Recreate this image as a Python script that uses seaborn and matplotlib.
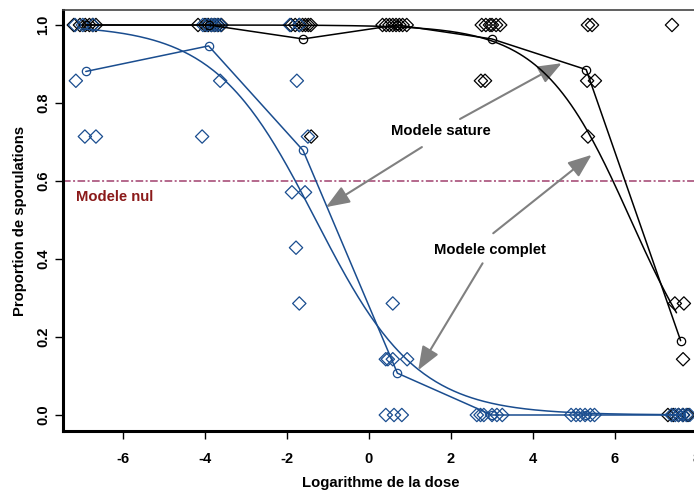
import numpy as np
import pandas as pd
import matplotlib
matplotlib.use("Agg")
import matplotlib.pyplot as plt
import seaborn as sns

# ---- data -------------------------------------------------------------
# log of the tested doses (0.001 ... 2000)
log_doses = [-6.908, -3.912, -1.609, 0.693, 2.996, 5.298, 7.601]

# product "bleu": dose level, jittered plotting position, observed proportion
blue_dose = ([-6.908] * 6 + [-3.912] * 8 + [-1.609] * 8 + [0.693] * 8
             + [2.996] * 6 + [5.298] * 6 + [7.601] * 6)
blue_xpos = [-7.17, -6.98, -6.73, -7.15, -6.93, -6.66,
             -4.05, -3.95, -3.85, -3.78, -3.70, -3.62, -3.63, -4.07,
             -1.93, -1.70, -1.76, -1.49, -1.88, -1.56, -1.78, -1.70,
             0.58, 0.41, 0.46, 0.58, 0.93, 0.41, 0.61, 0.80,
             2.63, 2.72, 2.80, 3.00, 3.12, 3.25,
             4.93, 5.05, 5.15, 5.27, 5.40, 5.50,
             7.38, 7.47, 7.55, 7.65, 7.74, 7.82]
blue_prop = [1, 1, 1, 0.857, 0.714, 0.714,
             1, 1, 1, 1, 1, 1, 0.857, 0.714,
             1, 1, 0.857, 0.714, 0.571, 0.571, 0.429, 0.286,
             0.286, 0.143, 0.143, 0.143, 0.143, 0, 0, 0,
             0, 0, 0, 0, 0, 0,
             0, 0, 0, 0, 0, 0,
             0, 0, 0, 0, 0, 0]

# product "noir"
black_dose = ([-6.908] * 6 + [-3.912] * 7 + [-1.609] * 8 + [0.693] * 8
              + [2.996] * 8 + [5.298] * 5 + [7.601] * 9)
black_xpos = [-7.20, -7.05, -6.92, -6.82, -6.74, -6.66,
              -4.17, -4.00, -3.92, -3.84, -3.76, -3.68, -3.60,
              -1.90, -1.80, -1.70, -1.62, -1.55, -1.48, -1.42, -1.41,
              0.33, 0.42, 0.50, 0.58, 0.66, 0.74, 0.82, 0.92,
              2.75, 2.85, 2.95, 3.00, 3.10, 3.20, 2.73, 2.83,
              5.34, 5.44, 5.32, 5.51, 5.34,
              7.39, 7.46, 7.68, 7.66, 7.29, 7.42, 7.55, 7.66, 7.78]
black_prop = [1, 1, 1, 1, 1, 1,
              1, 1, 1, 1, 1, 1, 1,
              1, 1, 1, 1, 1, 1, 1, 0.714,
              1, 1, 1, 1, 1, 1, 1, 1,
              1, 1, 1, 1, 1, 1, 0.857, 0.857,
              1, 1, 0.857, 0.857, 0.714,
              1, 0.286, 0.286, 0.143, 0, 0, 0, 0, 0]

# logistic fits of the complete model (intercept, slope on log dose)
blue_fit = (-1.05, -0.81)
black_fit = (5.94, -0.93)
fit_range = (-7.0, 7.5)

null_level = 0.6

x_ticks = [-6, -4, -2, 0, 2, 4, 6, 8]
x_ticklabels = ["-6", "-4", "-2", "0", "2", "4", "6", "8"]
y_ticks = [0, 0.2, 0.4, 0.6, 0.8, 1.0]
y_ticklabels = ["0.0", "0.2", "0.4", "0.6", "0.8", "1.0"]

BLUE = "#1a4d8f"
BLACK = "#000000"
GREY = "#808080"
NULL_COL = "#a0406e"

# ---- figure -----------------------------------------------------------
sns.set_style("ticks")
plt.rcParams["font.family"] = ["Liberation Sans", "DejaVu Sans"]
plt.rcParams["font.weight"] = "bold"
plt.rcParams["axes.labelweight"] = "bold"
plt.rcParams["text.color"] = "black"
plt.rcParams["axes.labelcolor"] = "black"
plt.rcParams["xtick.color"] = "black"
plt.rcParams["ytick.color"] = "black"

W, H = 694, 493
fig = plt.figure(figsize=(W / 100, H / 100), dpi=100)
left_px, right_px, top_px, bottom_px = 63, 698, 10, 431
ax = fig.add_axes([left_px / W, 1 - bottom_px / H,
                   (right_px - left_px) / W, (bottom_px - top_px) / H])

df = pd.concat([
    pd.DataFrame({"dose": blue_dose, "xpos": blue_xpos, "prop": blue_prop, "prod": "bleu"}),
    pd.DataFrame({"dose": black_dose, "xpos": black_xpos, "prop": black_prop, "prod": "noir"}),
])

colors = {"bleu": BLUE, "noir": BLACK}
for prod in ["noir", "bleu"]:
    sub = df[df["prod"] == prod]
    sns.scatterplot(data=sub, x="xpos", y="prop", marker="D", s=46,
                    facecolor="none", edgecolor=colors[prod], linewidth=0.9,
                    ax=ax, zorder=3)

# saturated model: mean proportion at each dose
for prod in ["noir", "bleu"]:
    sub = df[df["prod"] == prod]
    sns.lineplot(data=sub, x="dose", y="prop", estimator="mean", errorbar=None,
                 color=colors[prod], lw=1.1, marker="o", ms=6,
                 markerfacecolor="none", markeredgecolor=colors[prod],
                 markeredgewidth=0.9, ax=ax, zorder=4)

# complete model: fitted logistic curves
grid = np.linspace(fit_range[0], fit_range[1], 300)
for (a, b), col in [(blue_fit, BLUE), (black_fit, BLACK)]:
    curve = 1 / (1 + np.exp(-(a + b * grid)))
    sns.lineplot(x=grid, y=curve, color=col, lw=1.1, ax=ax, zorder=4)

# null model
ax.axhline(null_level, color=NULL_COL, lw=1.1, dashes=(5, 1.6, 1.3, 1.6), zorder=2)
ax.text(-7.15, null_level - 0.04, "Modele nul", color="#8b1a1a",
        fontsize=10.7, fontweight="bold", ha="left", va="center")

# annotations
arrow_kw = dict(arrowstyle="-|>,head_length=0.9,head_width=0.35", color=GREY,
                lw=1.5, mutation_scale=16, shrinkA=0, shrinkB=0)
ax.text(1.76, 0.728, "Modele sature", fontsize=10.7, fontweight="bold",
        ha="center", va="center")
ax.annotate("", xy=(-1.05, 0.533), xytext=(1.29, 0.687), arrowprops=arrow_kw)
ax.annotate("", xy=(4.70, 0.902), xytext=(2.22, 0.759), arrowprops=arrow_kw)
ax.text(2.95, 0.422, "Modele complet", fontsize=10.7, fontweight="bold",
        ha="center", va="center")
ax.annotate("", xy=(1.20, 0.115), xytext=(2.77, 0.389), arrowprops=arrow_kw)
ax.annotate("", xy=(5.43, 0.667), xytext=(3.03, 0.466), arrowprops=arrow_kw)

# axes
ax.set_xlim((left_px - 369) / 41, (right_px - 369) / 41)
ax.set_ylim(-16 / 390, 1 + 15 / 390)
ax.set_xticks(x_ticks)
ax.set_xticklabels(x_ticklabels)
ax.set_yticks(y_ticks)
ax.set_yticklabels(y_ticklabels, rotation=90, va="center")
ax.tick_params(axis="both", length=6, width=1.0, labelsize=10.5, color="black",
               labelcolor="black")
ax.tick_params(axis="x", pad=9)
ax.tick_params(axis="y", pad=3)
for lab in ax.get_xticklabels() + ax.get_yticklabels():
    lab.set_fontweight("bold")
ax.set_xlabel("Logarithme de la dose", fontsize=10.7, fontweight="bold", labelpad=7)
ax.set_ylabel("Proportion de sporulations", fontsize=10.7, fontweight="bold", labelpad=7)

ax.spines["left"].set_linewidth(2.2)
ax.spines["bottom"].set_linewidth(2.2)
ax.spines["left"].set_color("black")
ax.spines["bottom"].set_color("black")
ax.spines["top"].set_linewidth(1.2)
ax.spines["top"].set_color("#444444")
ax.spines["right"].set_visible(False)

fig.savefig("out.png", dpi=100)
